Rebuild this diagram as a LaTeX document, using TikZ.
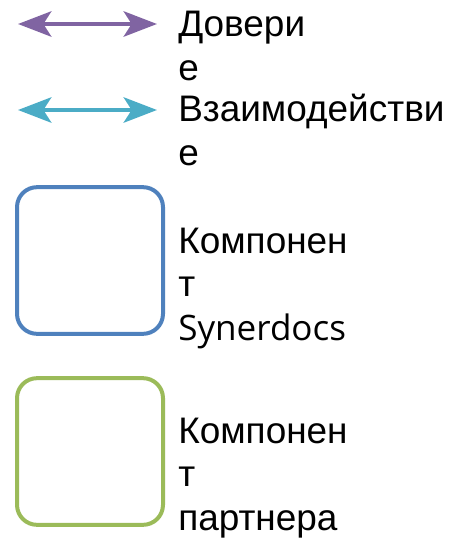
\documentclass[tikz,border=0pt]{standalone}
\usepackage{fontspec}
\setmainfont{Liberation Sans}
\newfontfamily\synfont{Open Sans}
\usetikzlibrary{arrows.meta}
\definecolor{trustc}{HTML}{8064A2}
\definecolor{interc}{HTML}{4BACC6}
\definecolor{sync}{HTML}{4F81BD}
\definecolor{partc}{HTML}{9BBB59}
\begin{document}
\begin{tikzpicture}[x=0.75pt,y=-0.75pt,
  legarrow/.style={line width=3pt,{Stealth[length=25pt,width=19pt,inset=6pt]}-{Stealth[length=25pt,width=19pt,inset=6pt]}},
  legbox/.style={rounded corners=15pt,line width=3pt,minimum width=109.5pt,minimum height=110pt,draw,inner sep=0pt},
  legtext/.style={anchor=base west,align=left,inner sep=0pt,font=\fontsize{27.7}{32.5}\selectfont}]
\useasboundingbox (0,0) rectangle (450,539);
\coordinate (t1) at (18,24);
\coordinate (t2) at (157,24);
\coordinate (i1) at (18,110);
\coordinate (i2) at (157,110);
\draw[legarrow,trustc] (t1) -- (t2);
\draw[legarrow,interc] (i1) -- (i2);
\node[legbox,sync] (sbox) at (90,260.5) {};
\node[legbox,partc] (pbox) at (90,451.5) {};
\node[legtext] (ltrust) at (178,80) {Довери\\е};
\node[legtext] (linter) at (178,165) {Взаимодействи\\е};
\node[legtext] (lsyn) at (178,340) {Компонен\\т\\{\synfont\fontsize{26.3}{32.5}\selectfont Synerdocs}};
\node[legtext] (lpart) at (178,530) {Компонен\\т\\партнера};
\end{tikzpicture}
\end{document}
